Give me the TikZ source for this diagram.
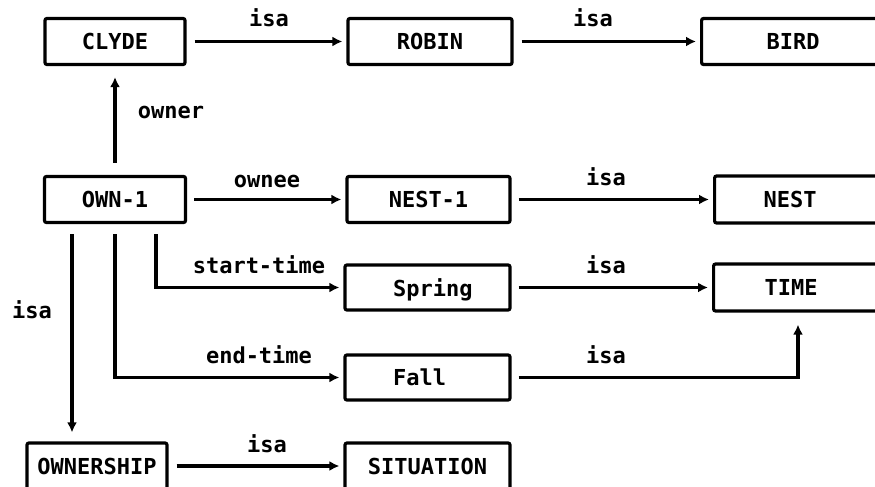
\documentclass[tikz,border=0pt]{standalone}
\usepackage{fontspec}
\setmonofont{DejaVu Sans Mono}
\usetikzlibrary{arrows.meta,calc}
\begin{document}
\begin{tikzpicture}[x=1pt,y=-1pt,
  txt/.style={font=\ttfamily\bfseries\fontsize{22}{24}\selectfont, inner sep=0pt, text depth=0pt},
  box/.style={draw, line width=3.2pt, rounded corners=2pt, inner sep=0pt, minimum height=46pt, txt},
  arr/.style={line width=3.2pt, -{Latex[length=10pt,width=10pt]}, shorten >=4pt, shorten <=8pt}]
\useasboundingbox (0,0) rectangle (875,487);
\clip (0,0) rectangle (875,487);

% row 1
\node[box, minimum width=140pt] (clyde) at (115,41.5) {CLYDE};
\node[box, minimum width=164pt] (robin) at (430,41.5) {ROBIN};
\node[box, minimum width=190pt, anchor=west] (bird) at (700,41.5) {};
\node[txt] (birdT) at (793,41.5) {BIRD};

% row 2
\node[box, minimum width=141pt] (own) at (115,199.5) {OWN-1};
\node[box, minimum width=163pt] (nest1) at (428.5,199.5) {NEST-1};
\node[box, minimum width=190pt, minimum height=47pt, anchor=west] (nest) at (713,199.5) {};
\node[txt] (nestT) at (790,199.5) {NEST};

% row 3
\node[box, minimum width=165pt, minimum height=45pt] (spring) at (427.5,287.5) {};
\node[txt, anchor=west] (springT) at (393,287.5) {Spring};
\node[box, minimum width=190pt, minimum height=47pt, anchor=west] (time) at (712,287.5) {};
\node[txt] (timeT) at (791,287.5) {TIME};

% row 4
\node[box, minimum width=165pt, minimum height=45pt] (fall) at (427.5,377.5) {};
\node[txt, anchor=west] (fallT) at (393,377.5) {Fall};

% row 5
\node[box, minimum width=140pt] (ownership) at (97,466) {OWNERSHIP};
\node[box, minimum width=165pt] (situation) at (427.5,466) {SITUATION};

% connectors
\draw[arr] (clyde) -- (robin);
\draw[arr] (robin) -- (bird);
\draw[arr, shorten <=12pt, shorten >=11pt] (own.north) -- (clyde.south);
\draw[arr, shorten <=7pt] (own) -- (nest1);
\draw[arr, shorten <=7pt] (nest1) -- (nest);
\draw[arr, shorten <=10pt, shorten >=9pt] ([xshift=-43pt]own.south) -- ([xshift=-43pt]own.south |- ownership.north);
\draw[arr, shorten <=10pt] ([xshift=41pt]own.south) |- (spring.west);
\draw[arr, shorten <=10pt] (own.south) |- (fall.west);
\draw[arr, shorten <=7pt] (spring) -- (time);
\draw[arr, shorten <=7pt, shorten >=12pt] (fall.east) -| ($(time.south west)+(86,0)$);
\draw[arr] (ownership) -- (situation);

% labels
\node[txt, anchor=base] (l1) at (269,27) {isa};
\node[txt, anchor=base] (l2) at (593,27) {isa};
\node[txt, anchor=base] (l3) at (171,118) {owner};
\node[txt, anchor=base] (l4) at (267,187) {ownee};
\node[txt, anchor=base] (l5) at (606,185) {isa};
\node[txt, anchor=base] (l6) at (259,273) {start-time};
\node[txt, anchor=base] (l7) at (606,273) {isa};
\node[txt, anchor=base] (l8) at (259,363) {end-time};
\node[txt, anchor=base] (l9) at (606,363) {isa};
\node[txt, anchor=base] (l10) at (267,452) {isa};
\node[txt, anchor=base] (l11) at (32,318) {isa};
\end{tikzpicture}
\end{document}
